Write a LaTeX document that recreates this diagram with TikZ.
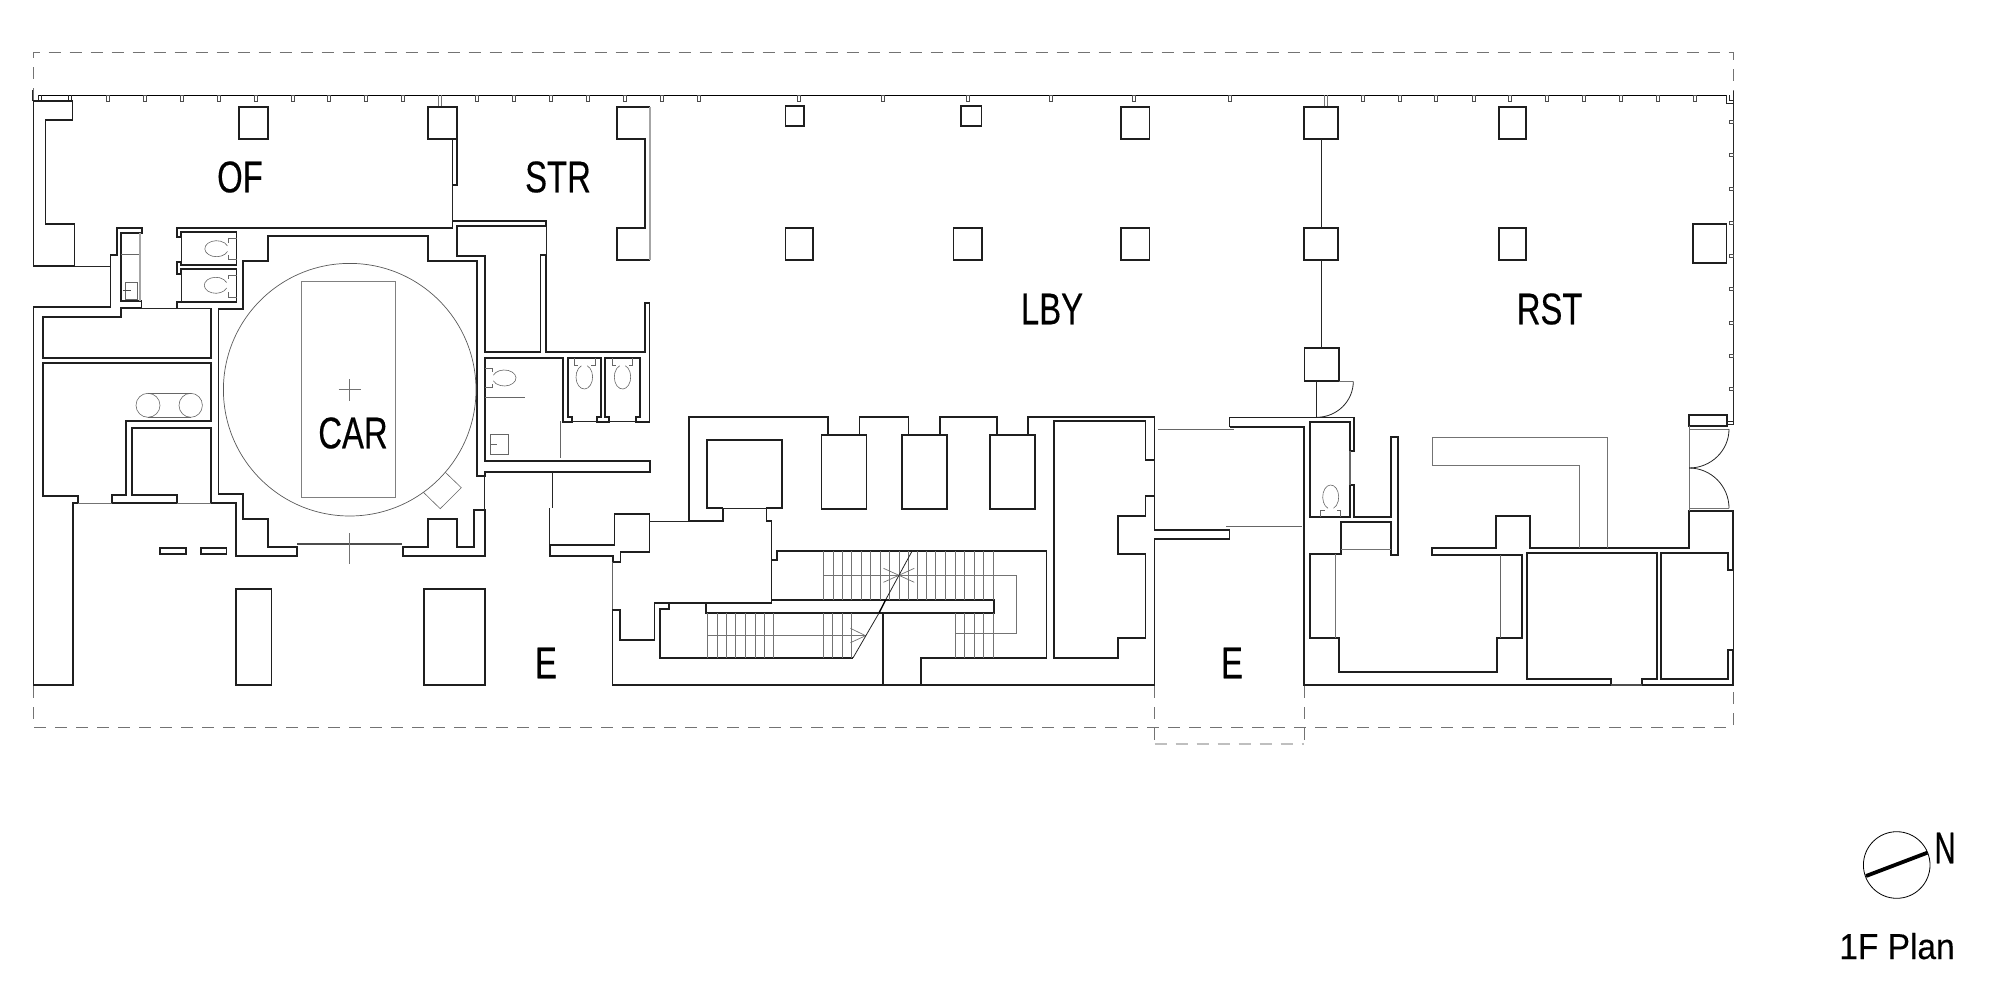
\documentclass[tikz,border=0pt]{standalone}
\usepackage{fontspec}
\setmainfont{Liberation Sans}
\newfontfamily\planfont[FakeStretch=0.74,FakeBold=0.35]{Liberation Sans}
\newfontfamily\narrowfont[FakeStretch=0.66,FakeBold=0.35]{Liberation Sans}
\newfontfamily\signfont[FakeStretch=0.93,FakeBold=0.2]{Liberation Sans}
\tikzset{
  wall/.style={line width=.9pt,draw=black!88,line join=miter},
  wallb/.style={line width=1.1pt,draw=black!70},
  wallg/.style={line width=.8pt,draw=black!35},
  thin line/.style={line width=.4pt,draw=black!85},
  fine/.style={line width=.35pt,draw=black!55},
  fixture/.style={line width=.3pt,draw=black!60},
  graybar/.style={line width=.55pt,draw=black!60},
  dashline/.style={line width=.4pt,draw=black!55,dash pattern=on 6pt off 4.5pt},
  dashlight/.style={line width=.7pt,draw=black!25,dash pattern=on 6pt off 4.5pt},
  lbl/.style={inner sep=0pt,font=\planfont\fontsize{22.2pt}{22.2pt}\selectfont,text=black}
}
% open ellipse outline: centre x, centre y, x radius, y radius, start angle
\newcommand{\bowl}[5]{\draw[fixture] ([shift={(#1,#2)}]#5:#3 and #4) arc[start angle=#5,delta angle=320,x radius=#3,y radius=#4];}
\begin{document}
\begin{tikzpicture}[x=.5pt,y=-.5pt]
\useasboundingbox (0,0) rectangle (2000,1000);
% ---- dashed outline
\draw[dashline] (33,100) -- (33,52.7) -- (1733,52.7) -- (1733,92);
\draw[dashline] (33,686) -- (33,727) -- (1733,727) -- (1733,686);
\draw[dashline] (1154.5,686) -- (1154.5,744);
\draw[dashline] (1304.3,686) -- (1304.3,744);
\draw[dashlight] (1154.5,744) -- (1304.3,744);
% ---- north facade
\draw[line width=.75pt] (38.3,95.5) -- (1726.7,95.5);
\draw[thin line] (32.5,90) -- (32.5,101);
\foreach \x in {107.7,144.8,181.8,218.9,255.5,292.5,329,366,403,477,514,551,588,625,661.6,698.4,798.5,882.8,967.8,1050.7,1134,1230,1362.6,1399.4,1436,1473.6,1510,1547,1584,1620.5,1658,1694.7}
  \draw[line width=.35pt,draw=black!70] (\x-1.5,95.5) rectangle (\x+1.5,101);
\draw[fine] (438.5,95.5) -- (438.5,107) (441.5,95.5) -- (441.5,107);
\draw[fine] (1324.5,95.5) -- (1324.5,106.7) (1327.5,95.5) -- (1327.5,106.7);
\draw[thin line] (38.5,95.5) -- (38.5,101) (41,95.5) -- (41,101) (68.5,95.5) -- (68.5,101) (71.5,95.5) -- (71.5,101);
% east facade
\draw[thin line] (1733.3,91) -- (1733.3,424.5);
\draw[thin line] (1726.7,95.5) -- (1726.7,103.3) -- (1733.3,103.3) (1729,95.5) -- (1729,100) -- (1733.3,100);
\foreach \y in {121.7,155.3,189,222.7,256,289.3,322.7,356.3,389.3}
  \draw[line width=.35pt,draw=black!70] (1729,\y-1.5) rectangle (1733.3,\y+1.5);
% ---- columns
\draw[wall] (238.6,107) rectangle (267.7,139);
\draw[wall] (428,107) rectangle (456.6,139);
\draw[wall] (785.5,106.3) rectangle (804.3,125.7);
\draw[wall] (961.3,106.3) rectangle (981.5,125.7);
\draw[wall] (1120.6,106.7) rectangle (1149.4,139.3);
\draw[wall] (1304.3,106.7) rectangle (1338,139.3);
\draw[wall] (1498.8,106.7) rectangle (1526.2,139.3);
\draw[wall] (785.5,227.7) rectangle (812.9,260.3);
\draw[wall] (953.4,227.7) rectangle (982.2,260.3);
\draw[wall] (1120.6,227.7) rectangle (1149.4,260.3);
\draw[wall] (1304.3,227.7) rectangle (1338,260.3);
\draw[wall] (1498.8,227.7) rectangle (1526.2,260.3);
\draw[wall] (1692.6,224.3) rectangle (1726.5,263.3);
\draw[wall] (1304.5,348) rectangle (1338.7,381.3);
\draw[thin line] (1321,139.3) -- (1321,227.7) (1321,260.3) -- (1321,348);
% ---- office west wall
\draw[wall] (33.5,101) -- (72.5,101) -- (72.5,120) -- (45.5,120) -- (45.5,224.3) -- (74.5,224.3) -- (74.5,266.3) -- (33.5,266.3) -- cycle;
\draw[thin line] (74.5,266.3) -- (110.5,266.3);
% service wall and west block
\draw[wall] (141.5,308.3) -- (120.8,308.3) -- (120.8,316.7) -- (43,316.7) -- (43,357.7) -- (211.3,357.7) -- (211.3,308.3);
\draw[wall] (141.4,308.3) -- (141.4,301) -- (120.7,301) -- (120.7,232.7) -- (142.3,232.7) -- (142.3,227.7) -- (117.3,227.7) -- (117.3,255) -- (110.5,255) -- (110.5,307.3) -- (33.5,307.3) -- (33.5,684.7) -- (73.2,684.7) -- (73.2,503) -- (77.9,503) -- (77.9,495.7) -- (43,495.7) -- (43,363.3) -- (211.3,363.3) -- (211.3,421) -- (125.8,421) -- (125.8,495) -- (112,495) -- (112,503) -- (176.8,503) -- (176.8,495) -- (132.2,495) -- (132.2,427.7) -- (211.3,427.7) -- (211.3,503) -- (235.7,503) -- (235.7,555.7) -- (297.1,555.7) -- (297.1,546.7) -- (267.7,546.7) -- (267.7,518.7) -- (243.3,518.7) -- (243.3,494) -- (218.4,494) -- (218.4,309.3) -- (243.3,309.3) -- (243.3,260.7) -- (267.7,260.7) -- (267.7,235.7) -- (427.6,235.7) -- (427.6,260.7) -- (476.9,260.7) -- (476.9,476) -- (484.8,476) -- (484.8,471.7) -- (649.8,471.7) -- (649.8,460.7) -- (484.8,460.7) -- (484.8,358.3) -- (563.3,358.3) -- (563.3,421.7) -- (571.7,421.7) -- (571.7,416.7) -- (567.7,416.7) -- (567.7,358.3) -- (601,358.3) -- (601,416.7) -- (597.3,416.7) -- (597.3,421.7) -- (609,421.7) -- (609,416.7) -- (605.3,416.7) -- (605.3,358.3) -- (640,358.3) -- (640,416.7) -- (635.7,416.7) -- (635.7,421.7) -- (649.5,421.7) -- (649.5,302.7) -- (644.8,302.7) -- (644.8,352) -- (546,352) -- (546,255) -- (540.4,255) -- (540.4,352) -- (484.8,352) -- (484.8,256) -- (456.6,256) -- (456.6,226) -- (546.3,226) -- (546.3,220.7) -- (452.4,220.7) -- (452.4,228) -- (176.8,228) -- (176.8,237.3) -- (181,237.3) -- (181,232) -- (236.5,232) -- (236.5,265) -- (181,265) -- (181,262.3) -- (176.8,262.3) -- (176.8,274.3) -- (181,274.3) -- (181,269) -- (236.5,269) -- (236.5,301.7) -- (176.8,301.7) -- (176.8,308.3);
\draw[thin line] (141.4,308.3) -- (211.3,308.3);
\draw[thin line] (181,237.3) -- (181,262.3) (181,274.3) -- (181,301.7);
\draw[thin line] (571.7,421.7) -- (597.3,421.7) (609,421.7) -- (635.7,421.7);
\draw[thin line] (546.3,226) -- (546.3,255);
\draw[fine] (77.9,503) -- (112,503) (176.8,503) -- (211.3,503);
\draw[wall] (452.4,185) -- (456.6,185) -- (456.6,139) (452.4,139) -- (452.4,185);
\draw[thin line] (452.4,185) -- (452.4,220.7);
% STR piers
\draw[wall] (649.8,107) -- (617,107) -- (617,139) -- (645.2,139) -- (645.2,227.7) -- (617,227.7) -- (617,260) -- (649.8,260);
\draw[wallg] (649.8,107) -- (649.8,260);
% core south
\draw[wall] (402,546.7) -- (427.6,546.7) -- (427.6,518.7) -- (457,518.7) -- (457,546.7) -- (473.9,546.7) -- (473.9,510) -- (484.8,510) -- (484.8,555.7) -- (402.8,555.7) -- (402.8,546.7);
\draw[wallb] (297.1,544) -- (402,544);
\draw[thin line] (484.8,476) -- (484.8,510);
\draw[fine] (349.7,533.3) -- (349.7,564.3);
\draw[wall] (160,548) rectangle (186,554);
\draw[wall] (201,548) rectangle (226.4,554);
\draw[wall] (235.7,589.3) rectangle (271.5,684.7);
\draw[wall] (424.2,589.3) rectangle (484.8,684.7);
% car turntable
\draw[line width=.35pt,draw=black!65] (349.7,389.7) circle[radius=126.3];
\draw[line width=.35pt,draw=black!50] (301,281.3) rectangle (395,497.3);
\draw[fine] (338.7,389.7) -- (360.7,389.7) (349.7,379) -- (349.7,400.5);
\draw[fixture] (423.4,492.3) -- (440.2,508.7) -- (461.3,487.7) -- (445.3,472.3);
% capsule
\draw[fixture] (148,393.3) -- (190.7,393.3) (148,417.3) -- (190.7,417.3);
\draw[fixture] (148,405.3) ellipse[x radius=12,y radius=12];
\draw[fixture] (190.7,405.3) ellipse[x radius=11.7,y radius=12];
% WC fixtures
\bowl{216.5}{248.7}{11.7}{8}{20}
\draw[fixture] (236.5,238.3) -- (228.3,238.3) -- (228.3,242.5) (236.5,259.3) -- (228.3,259.3) -- (228.3,254.8);
\bowl{215.8}{285.3}{11.5}{8}{20}
\draw[fixture] (236.5,275) -- (228.3,275) -- (228.3,279) (236.5,297) -- (228.3,297) -- (228.3,291.5);
\draw[fixture] (120.7,254.3) -- (140,254.3);
\draw[line width=.8pt,draw=black!35] (140,232.7) -- (140,301);
\draw[fixture] (125,282.3) rectangle (137.7,299.3);
\draw[line width=.6pt,draw=black!70] (122.7,290.7) -- (130.7,290.7);
\draw[fixture] (574.3,358.3) -- (574.3,365) -- (577.7,365) (595,358.3) -- (595,365) -- (591,365);
\bowl{584.3}{377}{8.3}{12}{-70}
\draw[fixture] (612.3,358.3) -- (612.3,365) -- (616,365) (632.7,358.3) -- (632.7,365) -- (628.7,365);
\bowl{622.5}{377}{8.2}{12}{-70}
\draw[fixture] (484.8,368.3) -- (492.7,368.3) -- (492.7,371.5) (484.8,387.7) -- (492.7,387.7) -- (492.7,383.5);
\bowl{504.3}{378}{11.7}{8}{200}
\draw[graybar] (484.8,397.7) -- (525,397.7);
\draw[fixture] (490.7,434.3) rectangle (508.7,454.3);
\draw[fixture] (490.7,444.3) -- (497.3,444.3);
\draw[graybar] (560.7,421) -- (560.7,458.3);
\draw[thin line] (552.2,471.7) -- (552.2,508.3);
% lower wing by stairs
\draw[thin line] (549.7,508.3) -- (549.7,545);
\draw[wall] (549.7,545) -- (614.5,545) -- (614.5,514.3) -- (649.4,514.3) -- (649.4,551.7) -- (620.4,551.7) -- (620.4,561.7) -- (612.8,561.7) -- (612.8,555.7) -- (549.7,555.7) -- cycle;
\draw[thin line] (649.4,521.3) -- (688.8,521.3);
\draw[graybar] (612.5,561.7) -- (612.5,610);
% main LBY core wall
\draw[wall] (722.8,508.3) -- (722.8,521.3) -- (688.8,521.3) -- (688.8,417.3) -- (828.1,417.3) -- (828.1,435.3) -- (859.4,435.3) -- (859.4,417.3) -- (908.5,417.3) -- (908.5,435.3) -- (939.7,435.3) -- (939.7,417.3) -- (996.9,417.3) -- (996.9,435.3) -- (1028.1,435.3) -- (1028.1,417.3) -- (1154.5,417.3) -- (1154.5,460.3) -- (1145.5,460.3) -- (1145.5,421.3) -- (1054,421.3) -- (1054,657.7) -- (1117.9,657.7) -- (1117.9,638.3) -- (1145.5,638.3) -- (1145.5,554) -- (1117.9,554) -- (1117.9,516.3) -- (1145.5,516.3) -- (1145.5,496) -- (1154.5,496) -- (1154.5,530) -- (1229.5,530) -- (1229.5,539.3) -- (1154.5,539.3) -- (1154.5,684.7) -- (612.5,684.7) -- (612.5,610) -- (620.1,610) -- (620.1,639.7) -- (654.5,639.7) -- (654.5,603) -- (668.8,603) -- (668.8,608.7) -- (660.3,608.7) -- (660.3,657.7) -- (853.1,657.7);
\draw[thin line] (1154.5,460.3) -- (1154.5,496);
\draw[wall] (821.4,435.3) rectangle (866.5,509.3);
\draw[wall] (901.8,435.3) rectangle (946.9,509.3);
\draw[wall] (989.7,435.3) rectangle (1035.3,509.3);
\draw[wall] (722.8,508.3) -- (707.1,508.3) -- (707.1,440.3) -- (782.1,440.3) -- (782.1,508.3) -- (766.5,508.3) -- (766.5,521.3) -- (771.4,521.3) -- (771.4,603) -- (654.5,603);
\draw[thin line] (722.8,508.3) -- (766.5,508.3);
\draw[wall] (771.4,560.3) -- (777.2,560.3) -- (777.2,551) -- (1046.4,551) -- (1046.4,657.7) -- (921,657.7) -- (921,684.7);
\draw[wall] (706.3,603) -- (706.3,613) -- (994.2,613) -- (994.2,599.7) -- (771.4,599.7);
\draw[wall] (882.6,613) -- (882.6,684.7);
% stairs
\foreach \x in {823.7,833,842,851.5,861,870.5,880,889.5,899,908,917,926.5,935.5,945.5,955,964.3,974,983.5,992.9}
  \draw[fine] (\x,551) -- (\x,599.7);
\foreach \x in {707.6,717,726.3,735.7,745.5,755,764.3,773.7}
  \draw[fine] (\x,613) -- (\x,657.7);
\foreach \x in {823.7,832.6,842,851.5}
  \draw[fine] (\x,613) -- (\x,657.7);
\foreach \x in {955.3,964.3,974,983.5,992.9}
  \draw[fine] (\x,613) -- (\x,657.7);
\draw[fine] (823.7,575.3) -- (1016.5,575.3) -- (1016.5,633.3) -- (955.3,633.3);
\draw[fine] (707.6,635.7) -- (865.6,635.7);
\draw[fine] (850.4,628.3) -- (865.6,635.7) -- (850.4,642.7);
\draw[fine] (883.5,568.3) -- (914.3,582.3) (883.5,582.3) -- (914.3,568.3);
\draw[thin line] (912.5,550.3) -- (885.7,599.7) (879,613) -- (853.1,657.7);
\draw[line width=.7pt] (885.7,599.7) -- (879,613);
% entrance passage
\draw[graybar] (1158,429.7) -- (1234,429.7);
\draw[graybar] (1226,526.7) -- (1302,526.7);
% RST east block
\draw[wall] (1229.5,426.7) -- (1229.5,417.5) -- (1354,417.5) -- (1354,451) -- (1350,451) -- (1350,421.7) -- (1310,421.7) -- (1310,516.7) -- (1350,516.7) -- (1350,484.7) -- (1354,484.7) -- (1354,516.7) -- (1391,516.7) -- (1391,437.3) -- (1397.7,437.3) -- (1397.7,555) -- (1391,555) -- (1391,522.3) -- (1340.7,522.3) -- (1340.7,553.7) -- (1310,553.7) -- (1310,638.3) -- (1339.3,638.3) -- (1339.3,671.7) -- (1497,671.7) -- (1497,638.3) -- (1522.3,638.3) -- (1522.3,555) -- (1432.3,555) -- (1432.3,547.7) -- (1495.7,547.7) -- (1495.7,516) -- (1530.3,516) -- (1530.3,548) -- (1689,548) -- (1689,511.3) -- (1733.3,511.3) -- (1733.3,570) -- (1727.7,570) -- (1727.7,553.3) -- (1661,553.3) -- (1661,679.3) -- (1727.7,679.3) -- (1727.7,650) -- (1733.3,650) -- (1733.3,685) -- (1642.3,685) -- (1642.3,679.3) -- (1656.7,679.3) -- (1656.7,552.7) -- (1526.7,552.7) -- (1526.7,679.3) -- (1611,679.3) -- (1611,685) -- (1304.3,685) -- (1304.3,426.7) -- (1229.5,426.7);
\draw[wallb] (1611,685) -- (1642.3,685);
\draw[thin line] (1733.3,570) -- (1733.3,650);
\draw[fine] (1335.7,554) -- (1335.7,638.3);
\draw[graybar] (1500.7,555) -- (1500.7,638.3);
\draw[fine] (1341,549) -- (1391,549);
\draw[graybar] (1350,451) -- (1350,484.7);
\draw[fine] (1432.3,465) -- (1579.7,465) -- (1579.7,548) (1432.3,465) -- (1432.3,437.3) -- (1607.7,437.3) -- (1607.7,548);
\bowl{1330.7}{497}{8}{12}{110}
\draw[fixture] (1320.3,516.7) -- (1320.3,510) -- (1325,510) (1340.7,516.7) -- (1340.7,510) -- (1336.5,510);
% doors
\draw[thin line] (1316.7,381.3) -- (1316.7,417.3);
\draw[fine] (1338.7,381.3) -- (1353.3,381.3);
\draw[thin line] (1316.7,417.3) arc[start angle=90,end angle=0,x radius=36.6,y radius=36];
\draw[wall] (1689,415) rectangle (1726.7,425.7);
\draw[thin line] (1726.7,421.7) rectangle (1733.5,424.5);
\draw[fine] (1689,425.7) -- (1689,511.3);
\draw[fine] (1689,429) -- (1729,429);
\draw[thin line] (1729,429) arc[start angle=0,end angle=90,x radius=40,y radius=39];
\draw[thin line] (1689,468) arc[start angle=-90,end angle=0,x radius=40,y radius=40.3];
\draw[fine] (1689,508.3) -- (1729,508.3);
% north sign
\draw[line width=.4pt] (1896.7,865) circle[radius=33.3];
\draw[line width=1.9pt] (1866,876) -- (1927.3,852.7);
% labels
\node[lbl] (of) at (240,177) {OF};
\node[lbl] (str) at (558,177) {STR};
\node[lbl] (lby) at (1052,309) {LBY};
\node[lbl] (rst) at (1549.6,309) {RST};
\node[lbl] (car) at (353,433) {CAR};
\node[lbl] (e1) at (546,663) {E};
\node[lbl] (e2) at (1232,663) {E};
\node[inner sep=0pt,font=\narrowfont\fontsize{22.2pt}{22.2pt}\selectfont] (n) at (1945,848) {N};
\node[inner sep=0pt,font=\signfont\fontsize{18pt}{18pt}\selectfont,anchor=base] (plan) at (1897,959) {1F Plan};
\end{tikzpicture}
\end{document}
